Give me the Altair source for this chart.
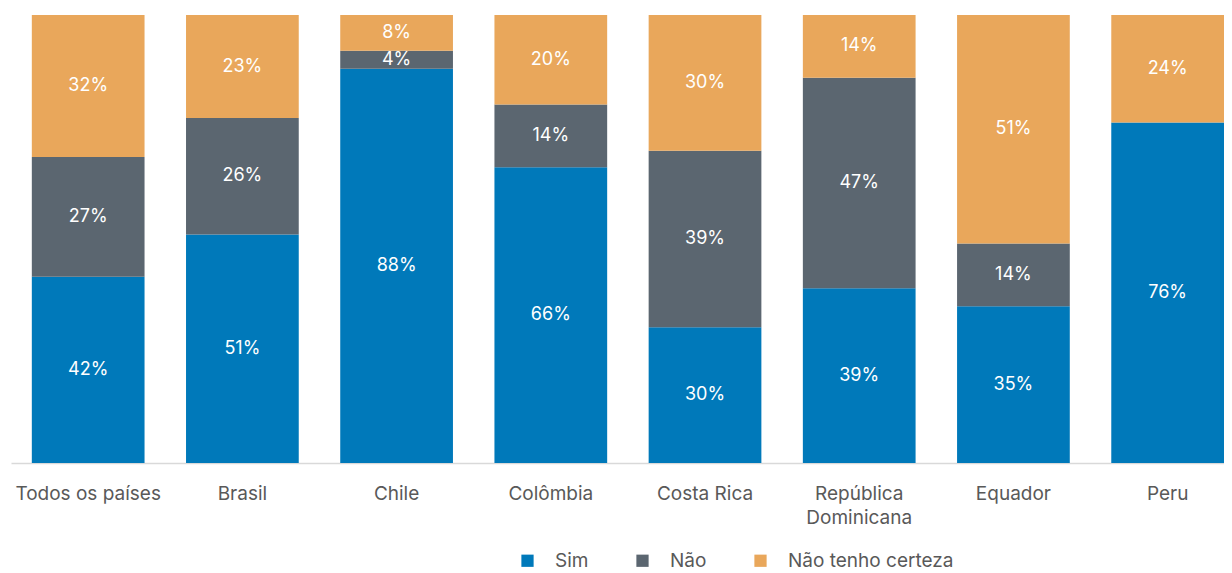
import altair as alt
import pandas as pd

countries = ["Todos os países", "Brasil", "Chile", "Colômbia", "Costa Rica",
             "República Dominicana", "Equador", "Peru"]
series = ["Sim", "Não", "Não tenho certeza"]
sim = [42, 51, 88, 66, 30, 39, 35, 76]
nao = [27, 26, 4, 14, 39, 47, 14, 0]
incerto = [32, 23, 8, 20, 30, 14, 51, 24]
colors = ["#0079BA", "#5B6670", "#E9A75B"]

rows = []
for i, c in enumerate(countries):
    for j, (s, vals) in enumerate(zip(series, [sim, nao, incerto])):
        rows.append({"pais": c, "resp": s, "ord": j, "v": vals[i]})
df = pd.DataFrame(rows)

FONT = "Inter"

base = alt.Chart(df).transform_stack(
    stack="v", groupby=["pais"], as_=["y0", "y1"], offset="normalize",
    sort=[alt.SortField("ord", order="ascending")]
).transform_calculate(
    ym="(datum.y0 + datum.y1) / 2",
    lab="datum.v + '%'"
)

xenc = alt.X("pais:N", sort=countries, title=None,
             scale=alt.Scale(paddingInner=0.269, paddingOuter=0.0675, align=1),
             axis=alt.Axis(labelAngle=0, domainColor="#D9D9D9", domainWidth=1.5,
                           ticks=False, labelFont=FONT, labelFontSize=19,
                           labelColor="#595959", labelPadding=21,
                           labelBaseline="top", labelLineHeight=24,
                           labelExpr="datum.label == 'República Dominicana' ? ['República', 'Dominicana'] : datum.label"))

bars = base.mark_bar().encode(
    x=xenc,
    y=alt.Y("y0:Q", scale=alt.Scale(domain=[0, 1]), axis=None),
    y2="y1:Q",
    color=alt.Color("resp:N", sort=series,
                    scale=alt.Scale(domain=series, range=colors),
                    legend=alt.Legend(title=None, orient="none", direction="horizontal",
                                      legendX=507, legendY=536, symbolType="square",
                                      symbolSize=150, symbolStrokeWidth=0,
                                      labelFont=FONT, labelFontSize=19, labelColor="#595959",
                                      labelOffset=18, columnPadding=44, padding=0,
                                      labelLimit=400)),
)

labels = base.transform_filter("datum.v > 0").mark_text(
    color="white", font=FONT, fontSize=18
).encode(
    x=alt.X("pais:N", sort=countries),
    y=alt.Y("ym:Q"),
    text="lab:N",
)

chart = alt.layer(bars, labels).properties(
    width=1213, height=448,
    padding={"left": 3, "top": 7, "right": 0, "bottom": 0},
).configure_view(stroke=None)

chart.save("out.html", embed_options={"renderer": "svg", "actions": False})
